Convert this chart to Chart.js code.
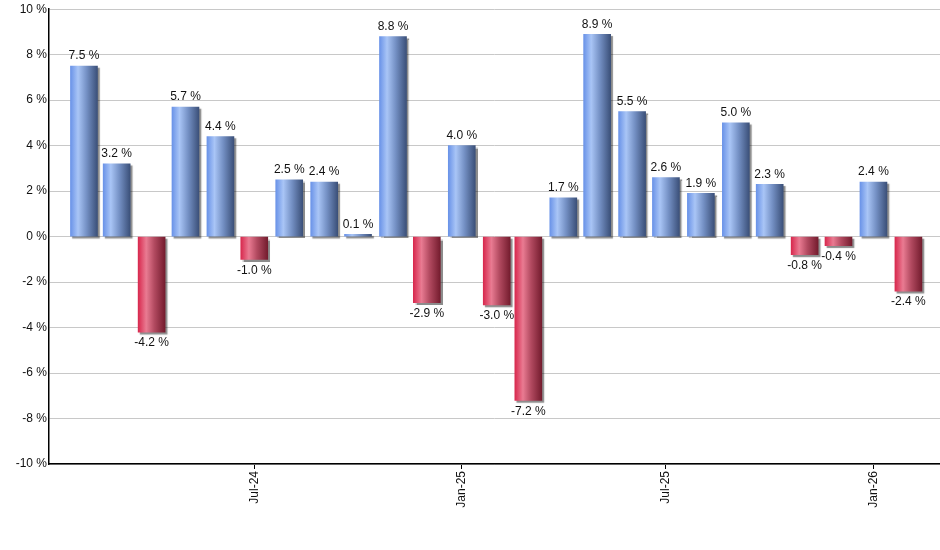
<!DOCTYPE html>
<html>
<head>
<meta charset="utf-8">
<script src="https://cdn.jsdelivr.net/npm/chart.js@4.4.1/dist/chart.umd.min.js"></script>
<style>
  html, body { margin: 0; padding: 0; background: #fff; }
  #wrap { width: 940px; height: 550px; }
</style>
</head>
<body>
<div id="wrap"><canvas id="chart"></canvas></div>
<script>
// monthly returns, one bar per month (bar sits on the 1st of the month)
const months = [
  '2024-02', '2024-03', '2024-04', '2024-05', '2024-06', '2024-07',
  '2024-08', '2024-09', '2024-10', '2024-11', '2024-12', '2025-01',
  '2025-02', '2025-03', '2025-04', '2025-05', '2025-06', '2025-07',
  '2025-08', '2025-09', '2025-10', '2025-11', '2025-12', '2026-01',
  '2026-02'
];
const returns = [
  7.5, 3.2, -4.2, 5.7, 4.4, -1.0,
  2.5, 2.4, 0.1, 8.8, -2.9, 4.0,
  -3.0, -7.2, 1.7, 8.9, 5.5, 2.6,
  1.9, 5.0, 2.3, -0.8, -0.4, 2.4,
  -2.4
];
const tickMonths = ['2024-07', '2025-01', '2025-07', '2026-01'];
const tickLabels = ['Jul-24', 'Jan-25', 'Jul-25', 'Jan-26'];
const axisStart = '2024-01';
const axisEnd = '2026-03';

// turn 'YYYY-MM' into a day number so the x axis spaces months by their real length
const dayOf = (ym) => {
  const [y, m] = ym.split('-').map(Number);
  return Date.UTC(y, m - 1, 1) / 86400000;
};

const points = months.map((m, i) => ({ x: dayOf(m), y: returns[i] }));
const BAR_W = 27;
const FONT = '"Liberation Sans", Arial, sans-serif';

// horizontal shading on each bar, light band a bit left of centre
const barFill = (ctx) => {
  const chart = ctx.chart;
  const xs = chart.scales.x;
  const pos = !ctx.raw || ctx.raw.y >= 0;
  const plain = pos ? '#6a93e8' : '#d8294e';
  if (!xs || !ctx.raw) return plain;
  const cx = xs.getPixelForValue(ctx.raw.x);
  if (!Number.isFinite(cx)) return plain;
  const g = chart.ctx.createLinearGradient(cx - BAR_W / 2, 0, cx + BAR_W / 2, 0);
  if (pos) {
    g.addColorStop(0, '#6a93e8');
    g.addColorStop(0.28, '#a9c5f6');
    g.addColorStop(0.6, '#7490c4');
    g.addColorStop(1, '#3b5079');
  } else {
    g.addColorStop(0, '#d8294e');
    g.addColorStop(0.3, '#e97b92');
    g.addColorStop(0.6, '#b24a60');
    g.addColorStop(1, '#741c2e');
  }
  return g;
};

// soft drop shadow behind the bars
const shadowPlugin = {
  id: 'barShadow',
  beforeDatasetDraw(chart) {
    const c = chart.ctx;
    c.save();
    c.shadowColor = 'rgba(0,0,0,0.45)';
    c.shadowOffsetX = 2;
    c.shadowOffsetY = 2;
    c.shadowBlur = 1;
  },
  afterDatasetDraw(chart) {
    chart.ctx.restore();
  }
};

// value labels above (or below) each bar
const valueLabels = {
  id: 'valueLabels',
  afterDatasetsDraw(chart) {
    const c = chart.ctx;
    const meta = chart.getDatasetMeta(0);
    c.save();
    c.font = '12px ' + FONT;
    c.fillStyle = '#111';
    c.textAlign = 'center';
    meta.data.forEach((bar, i) => {
      const v = returns[i];
      const txt = v.toFixed(1) + ' %';
      if (v >= 0) {
        c.textBaseline = 'bottom';
        c.fillText(txt, bar.x, bar.y - 4);
      } else {
        c.textBaseline = 'top';
        c.fillText(txt, bar.x, bar.y + 5);
      }
    });
    c.restore();
  }
};

new Chart(document.getElementById('chart'), {
  type: 'bar',
  data: {
    datasets: [{
      data: points,
      backgroundColor: barFill,
      borderWidth: 0,
      barThickness: BAR_W
    }]
  },
  options: {
    responsive: true,
    maintainAspectRatio: false,
    animation: false,
    layout: { padding: { top: 9, right: 0, left: 0, bottom: 0 } },
    plugins: {
      legend: { display: false },
      tooltip: { enabled: false }
    },
    scales: {
      x: {
        type: 'linear',
        min: dayOf(axisStart),
        max: dayOf(axisEnd),
        offset: false,
        afterBuildTicks: (scale) => {
          scale.ticks = tickMonths.map(m => ({ value: dayOf(m) }));
        },
        afterFit: (scale) => { scale.height = 86; },
        border: { display: true, color: '#000', width: 1.5 },
        grid: {
          offset: false,
          drawOnChartArea: false,
          drawTicks: true,
          tickLength: 5,
          color: '#000'
        },
        ticks: {
          autoSkip: false,
          minRotation: 90,
          maxRotation: 90,
          padding: 2,
          color: '#111',
          font: { family: FONT, size: 12 },
          callback: (value) => {
            const i = tickMonths.findIndex(m => dayOf(m) === value);
            return i >= 0 ? tickLabels[i] : '';
          }
        }
      },
      y: {
        min: -10,
        max: 10,
        afterFit: (scale) => { scale.width = 49; },
        border: { display: true, color: '#000', width: 1.5 },
        grid: {
          color: '#c8c8c8',
          lineWidth: 1,
          drawTicks: false
        },
        ticks: {
          stepSize: 2,
          padding: 2,
          color: '#111',
          font: { family: FONT, size: 12 },
          callback: (v) => v + ' %'
        }
      }
    }
  },
  plugins: [shadowPlugin, valueLabels]
});
</script>
</body>
</html>
